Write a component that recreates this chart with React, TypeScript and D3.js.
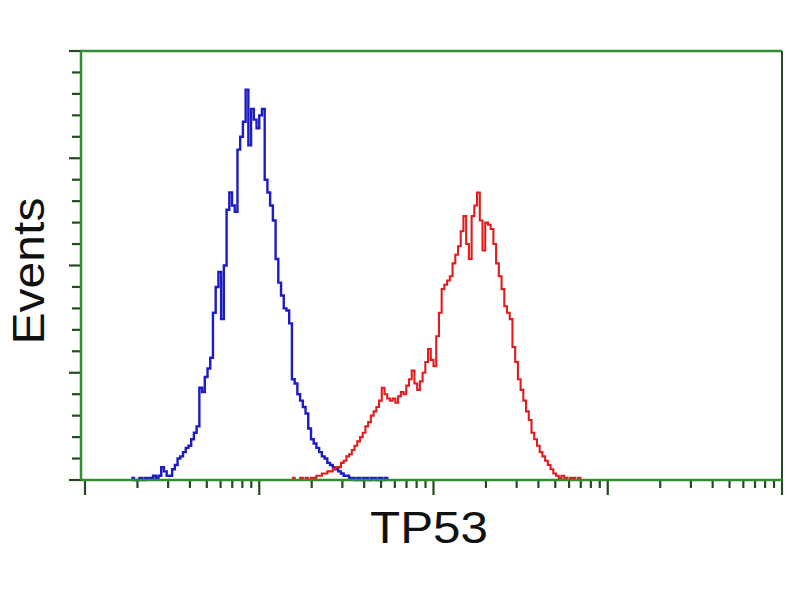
import React from "react";
import * as d3 from "d3";

// Histogram channels: 256 log channels spanning 4 decades (channel c -> 10^(c/64))
const CHANNELS_PER_DECADE = 64;

const blueStartChannel = 17;
const blueCounts = [
  1, 0, 0, 1, 0, 1, 1, 1, 2, 1, 2, 6, 4, 2, 2, 5, 7, 10, 11, 13,
  15, 16, 19, 22, 25, 43, 41, 48, 52, 57, 78, 90, 97, 75, 100, 126, 134, 128, 125, 154,
  160, 167, 182, 156, 173, 168, 164, 170, 173, 140, 134, 128, 121, 103, 92, 86, 80, 79, 73, 47,
  45, 40, 37, 34, 31, 24, 19, 17, 15, 13, 11, 10, 8, 7, 6, 5, 4, 3, 2, 2,
  1, 1, 0, 1, 0, 1, 1, 0, 1, 1, 0, 1, 0, 1, 0,
];

const redStartChannel = 76;
const redCounts = [
  1, 0, 0, 1, 0, 1, 0, 1, 1, 2, 2, 3, 3, 4, 4, 5, 6, 6, 8, 9,
  11, 12, 14, 16, 18, 20, 22, 25, 27, 30, 32, 34, 37, 43, 40, 38, 37, 38, 36, 39,
  41, 40, 44, 47, 51, 45, 42, 46, 50, 55, 61, 56, 53, 67, 78, 89, 91, 93, 95, 101,
  105, 109, 116, 123, 110, 103, 123, 128, 134, 121, 107, 120, 119, 117, 110, 101, 95, 89, 81, 78,
  75, 62, 55, 47, 42, 37, 32, 28, 22, 19, 16, 13, 11, 9, 7, 5, 3, 2, 1, 2,
  1, 0, 1, 1, 0, 1, 0, 0,
];

const xDomain = [1, 10000];
const yMax = 200;
const yTickStep = 10;
const xLabel = "TP53";
const yLabel = "Events";

type Pt = { x: number; y: number };
function toPoints(start: number, counts: number[]): Pt[] {
  return counts.map((c, i) => ({ x: Math.pow(10, (start + i) / CHANNELS_PER_DECADE), y: c }));
}

export default function App() {
  const W = 800;
  const H = 600;
  const left = 81;
  const right = 782;
  const top = 51;
  const bottom = 480;

  const x = d3.scaleLog().domain(xDomain).range([85, 782]);
  const y = d3.scaleLinear().domain([0, yMax]).range([bottom, top]);

  const line = d3
    .line<Pt>()
    .x((d) => x(d.x))
    .y((d) => y(d.y))
    .curve(d3.curveStepAfter);

  const bluePts = toPoints(blueStartChannel, blueCounts);
  const redPts = toPoints(redStartChannel, redCounts);

  const yTicks = d3.range(0, yMax + 0.001, yTickStep);
  const xTicks: { v: number; major: boolean }[] = [];
  for (let e = 0; e <= 4; e++) {
    const base = Math.pow(10, e);
    xTicks.push({ v: base, major: true });
    if (e < 4) for (let k = 2; k <= 9; k++) xTicks.push({ v: base * k, major: false });
  }

  const green = "#2f8f2f";
  const tickCol = "#234a23";

  return (
    <svg
      width={W}
      height={H}
      style={{ position: "absolute", left: 0, top: 0, background: "#fff" }}
      fontFamily="'Liberation Sans', Arial, Helvetica, sans-serif"
    >
      <rect x={0} y={0} width={W} height={H} fill="#fff" />
      {/* frame */}
      <line x1={left} y1={top} x2={right} y2={top} stroke={green} strokeWidth={2.5} />
      <line x1={right} y1={top} x2={right} y2={bottom} stroke={tickCol} strokeWidth={2} />
      {/* y ticks */}
      {yTicks.map((t, i) => (
        <line
          key={"yt" + i}
          x1={i % 5 === 0 ? 69 : 72}
          x2={left}
          y1={y(t)}
          y2={y(t)}
          stroke={tickCol}
          strokeWidth={2.2}
        />
      ))}
      {/* x ticks */}
      {xTicks.map((t, i) => (
        <line
          key={"xt" + i}
          x1={x(t.v)}
          x2={x(t.v)}
          y1={bottom}
          y2={t.major ? 495 : 488}
          stroke={tickCol}
          strokeWidth={2.2}
        />
      ))}
      {/* data */}
      <path d={line(bluePts) || ""} fill="none" stroke="#1c1cc4" strokeWidth={2.4} />
      <path d={line(redPts) || ""} fill="none" stroke="#e01c1c" strokeWidth={2.1} />
      {/* axes lines */}
      <line x1={left} y1={top} x2={left} y2={bottom} stroke={green} strokeWidth={2.5} />
      <line x1={left} y1={bottom} x2={right} y2={bottom} stroke={green} strokeWidth={2.5} />
      {/* labels */}
      <text x={429} y={543} textAnchor="middle" fontSize={44} fill="#111" textLength={118} lengthAdjust="spacingAndGlyphs">
        {xLabel}
      </text>
      <text
        transform="translate(44,271) rotate(-90)"
        textAnchor="middle"
        fontSize={45}
        fill="#111"
        textLength={147}
        lengthAdjust="spacingAndGlyphs"
      >
        {yLabel}
      </text>
    </svg>
  );
}
